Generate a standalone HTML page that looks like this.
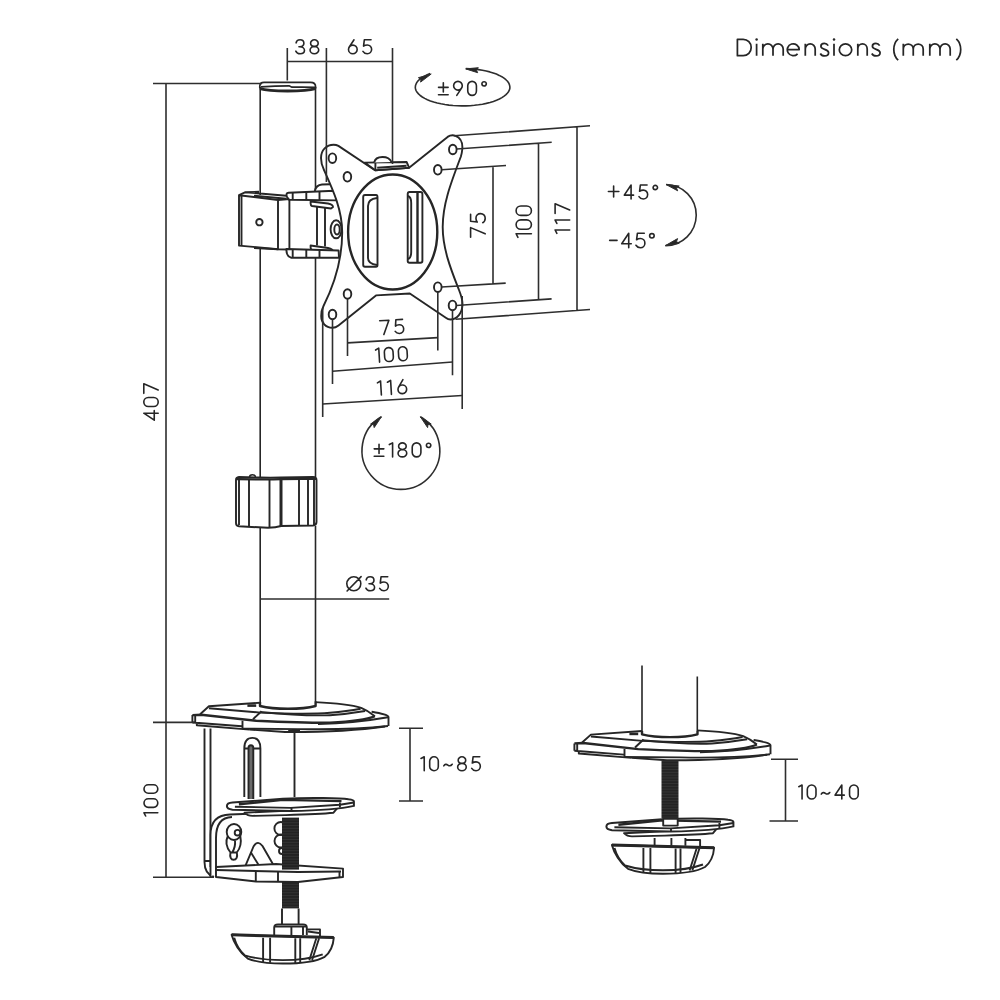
<!DOCTYPE html>
<html><head><meta charset="utf-8"><style>
html,body{margin:0;padding:0;background:#fff;}
svg{display:block;}

</style></head><body>
<svg width="1000" height="1000" viewBox="0 0 1000 1000">
<defs>
<pattern id="thr" patternUnits="userSpaceOnUse" width="40" height="2.8"><rect width="40" height="2.8" fill="#232323"/><rect x="0" y="1.9" width="40" height="0.4" fill="#4a4a4a"/></pattern>
<!-- base disc, grommet coordinates -->
<g id="base">
<path d="M574.4 743.4 L583.2 743 L590.9 734.6 L642 731 L697 730.4 C720 731.5 735 733.5 743.2 736.1 L753.6 740 C762 741.5 770.5 743 770.5 745.3 V754.3 C750 757 730 759.5 712 760.3 L667 760.5 L631.6 757.9 L578.8 753.5 V751.9 L574.4 750.8 Z" fill="#fff" stroke="none"/>
<path d="M574.4 743.4 V750.8 M578.8 751.9 V753.5 L631.6 757.9"/>
<path d="M582.1 742.5 L590.9 734.6 L642 731 M697 730.4 C720 731.5 735 733.5 743.2 736.1 C748 738 752 740.5 756.9 744.5"/>
<path d="M574.4 743.4 L583.2 743 L638.2 749.1 C670 750.5 700 751.2 712 751.1 C735 750 750 747.5 756.9 744.5" stroke-width="2.4"/>
<path d="M590.9 736.5 L642.6 740.9 C670 742 700 742 712 741 C725 740 735 738.5 742.6 737"/>
<path d="M642.4 740.3 C670 743 700 744 712 743.5 C728 742.5 740 740.5 747.1 739.3"/>
<path d="M643.5 739.5 L635 747.5"/>
<path d="M753.6 740 C762 741.5 770.5 743 770.5 745.3 V754.3"/>
<path d="M770 745.5 C750 749 730 751.5 700 752.3"/>
<path d="M577.2 744 V751 M574.4 750.8 L623.9 754.6 M624.5 749 V757"/>
<path d="M624.5 757 L680 757.4 C720 758.2 750 756.5 770 754.3"/>
<path d="M631.6 757.9 L667 760.3 C710 760.5 745 758 767 754.8"/>
<path d="M629.4 733.9 H638.2" stroke-width="2.6"/>
</g>
<g id="pplate">
<path d="M624 833.2 Q627 836.4 632 836.4 L665 835.6 Q700 834.5 713 833.2 L717 828.4 L670 831 Z" fill="#fff"/>
<path d="M606.4 826.5 C606.4 823.8 609 823.2 612 823 L662.4 819.2 C690 818 720 818.5 728 819.8 C732 820.3 733.4 821 733.4 822 V826.4 C720 829.5 700 831 670.4 831.6 L612 830.2 C608.5 829.8 606.4 828.5 606.4 826.5 Z" fill="#fff" stroke-width="2"/>
<path d="M618.4 824.8 L662.4 820.4 L721 821.6" stroke-width="2.4"/>
<path d="M614.4 827.2 L670.4 828.4 L719.4 825.2 L733.4 823"/>
<path d="M671 828V832 M719.4 823V828"/>
</g>
<g id="knob">
<path d="M611.9 845 L714.1 847.8 C713.5 856 710 863 705 867 C697 871.5 680 873.7 663 873.7 C648 873.7 636 872 628 868.8 C620 863 614 853 611.9 845 Z" fill="#fff"/>
<path d="M611.9 845 L714.1 847.8" stroke-width="3"/>
<path d="M614.5 848 C616.5 855 620 861 625 865.5 C638 869.5 650 870.3 663 870.3 C678 870.3 692 868.5 703 864.5"/>
<path d="M643.4 848V872.5 M650.4 848V873 M675.6 848.5V873.5 M680.5 848.5V873 M699.4 848.5 L692.4 870.2 M696.6 848.5 L689.6 870.5"/>
</g>
</defs>

<g fill="none" stroke="#262626" stroke-width="1.9" stroke-linecap="butt" stroke-linejoin="round">

<!-- ===== POLE ===== -->
<path d="M260.2 87V195 M315.5 87V193 M260.2 249V477 M315.5 258V477 M260.2 526V703 M315.5 526V702" stroke-width="1.6"/>
<path d="M259.8 88.5 V86 Q260 82.4 264 82.4 H310.5 Q315.6 82.4 315.6 87 V88.5" stroke-width="1.7"/>
<path d="M261 86.8 Q275 85.8 289 85.8 L292 87.2 Q305 86.8 315 87.4" stroke-width="1.7"/>
<path d="M260 88.6 C270 91.8 305 91.8 315.5 88.6" stroke-width="2.8"/>
<!-- bracket on pole -->
<path d="M239 195.2 L278 200 L278 249.2 L239 245.6 Z" fill="#fff"/>
<path d="M241.5 196 V245.8"/>
<path d="M239 195.2 L245 192.3 L259 191.8 M254 195.8 L286.4 198.8 M245 192.2 L286.4 195.8"/>
<path d="M278 200 L289.4 199 L289.4 249.5 L278 249.2 M254 248 L278 249.2"/>
<circle cx="259.4" cy="222.2" r="3.2"/>
<path d="M287 197 Q285.5 193 288.5 192.7 L334.4 190.8 L337 200.4 L289.3 199.8 Z" fill="#fff"/>
<path d="M292.7 193V199.8 M306.3 192V200 M319.5 191.5V200.2"/>
<path d="M314.8 191 Q316 185 322 184.5 L330 184.2" fill="#fff"/>
<path d="M310.6 201.5 L328 203.5 Q333 204.5 333 207 L331 208.5 L312 206 Q310.6 205.5 310.6 203.5 Z" fill="#fff"/>
<path d="M317 206.5 V245.5 M325 207.5 V246.5"/>
<path d="M310.6 245.5 L328 248 Q333 249 333 251.5 L331 252.5 L312 250 Q310.6 249.5 310.6 247.5 Z" fill="#fff"/>
<path d="M286.4 249 L338.6 250.5 L339 257.7 L291 257.7 Q286 256 286.4 249 Z" fill="#fff"/>
<path d="M292.7 249.5V257.7 M306.3 249.8V257.7 M319.5 250.2V257.7"/>
<ellipse cx="336.1" cy="229.3" rx="5.5" ry="9" fill="#fff"/>
<ellipse cx="337" cy="229.5" rx="2.7" ry="5"/>

<!-- collar -->
<path d="M239 477 Q236 477.3 236 480 V523 Q236 526 239 526.3 L268 527.8 Q276 527.5 281 526 L313 525.5 Q316.5 525.3 316.5 522 V480 Q316.5 477 313 477 L281 477.5 Q270 477.8 260 477.5 Z" fill="#fff"/>
<path d="M237 479.2 Q268 479.6 281 479.2 Q300 478.6 316 479" stroke-width="2.2"/>
<path d="M249.5 477.3 Q249.5 474.8 252.5 474.8 Q255.5 474.8 255.5 477.3" stroke-width="1.5"/>
<path d="M239 479V525 M249 479.5V526.5 M269.5 479V527.5 M299 479V526 M308 479V525.5 M314 479V525"/>
<path d="M281 478V526" stroke-width="3"/>

<!-- ===== VESA PLATE ===== -->
<path d="M338.4 145.9 L375 170.2 L409.1 167.7 L447.6 136.9 C450 135.3 453 135 455.5 135.8 C460 137.5 462.8 142.5 462.3 149 C462 152.5 461.5 154.5 460.9 156.5 C450 185 442.7 205 442.7 227 C442.7 250 452 272 459 290 C461 295 462.5 299 462.5 304 C462.5 313 457 319.5 450.4 319.5 C448.5 319.5 447.2 318.8 446.2 318 L409.8 293.5 L376 295.4 L338.5 325.4 C336.5 327 334.5 327.7 332.5 327.7 C325.5 327.7 321.2 322.5 321.2 316 C321.2 312 322 309 323.5 306 C333 287 342.2 260 342.2 232.5 C342.2 210 333 190 324 170 C322 166 321 162 321 158 C321 150 326.5 144.7 333.6 144.7 C335.5 144.7 337 145.1 338.4 145.9 Z" fill="#fff"/>
<!-- tab -->
<path d="M364.6 162.6 L406.6 162 L409.1 167.7 L375.4 170.2 Z" fill="#fff"/>
<path d="M374.2 162.5 C375 158.5 378 157 382.5 157 C387 157 390 158.5 391.5 162" fill="#fff"/>
<path d="M377.2 167.8 L406.6 165.7 M375.4 163 V170"/>
<!-- holes -->
<ellipse cx="332.4" cy="158.2" rx="3.8" ry="4.8"/>
<ellipse cx="347.4" cy="176.8" rx="3.8" ry="4.8"/>
<ellipse cx="452.8" cy="149.5" rx="3.8" ry="4.8"/>
<ellipse cx="437.8" cy="169.8" rx="3.8" ry="4.8"/>
<ellipse cx="347.5" cy="294" rx="3.8" ry="4.8"/>
<ellipse cx="332.5" cy="314.5" rx="3.8" ry="4.8"/>
<ellipse cx="437.8" cy="287.2" rx="3.8" ry="4.8"/>
<ellipse cx="452.5" cy="305.4" rx="3.8" ry="4.8"/>
<!-- big disc -->
<ellipse cx="392.7" cy="232" rx="44.6" ry="57.5" stroke-width="2.4"/>
<!-- slots -->
<path d="M365 195 H376 Q377.5 195 377.5 197 V265 Q377.5 266.7 376 266.7 H365 Q363.2 266.7 363.2 265 V197 Q363.2 195 365 195 Z"/>
<path d="M377 198 Q368 199 368 206 V258 Q368 264 377 265"/>
<path d="M409.5 192 H420.5 Q422.4 192 422.4 194 V261 Q422.4 262.7 420.5 262.7 H409.5 Q407.7 262.7 407.7 261 V194 Q407.7 192 409.5 192 Z"/>
<path d="M417.5 193V262" stroke-width="2.4"/>
<path d="M408 196 Q411.2 197 411.2 203 V252 Q411.2 258 408 259"/>

<!-- ===== BIG CLAMP ===== -->
<use href="#base" transform="translate(-382 -28.3)"/>
<path d="M260 702 V706 C270 708.5 280 708.8 288 708.8 C296 708.8 306 708.5 315.6 706 V701.6" stroke-width="2.4"/>
<!-- vertical bar -->
<path d="M204.5 728.5 V862 Q204.5 874 214 877 M210.5 728.5 V867"/>
<path d="M204.5 861 H210.5 M210.5 832 H216 M210.5 868 H216"/>
<!-- L plate -->
<path d="M210.5 877 V835 Q210.5 815 230 814.5 L300 812" fill="#fff"/>
<path d="M216 877 V838 Q216 817.5 232 817"/>
<path d="M294.5 731.8 V797 M288.2 731 H300"/>
<!-- slot -->
<path d="M244.3 797 V748.5 Q244.3 737.9 252.4 737.9 Q260.4 737.9 260.4 748.5 V797 M244.3 748.5 H260.4"/>
<path d="M248.5 799 V748 Q248.5 745.3 250.9 745.3 Q253.3 745.3 253.3 748 V799" fill="#6a6a6a"/>
<use href="#pplate" transform="translate(-379.5 -20.5)"/>
<!-- bolts -->
<ellipse cx="234" cy="832" rx="7.3" ry="8"/>
<path d="M227.8 836 C225.5 841 226 847 230.5 852.5 C229.5 857 231 859.8 233.5 859.8 C236.5 859.8 237.8 857 236.8 852.5 C240.5 848 241.5 842 240.3 836"/>
<circle cx="237.5" cy="832.7" r="2.8"/>
<path d="M235 840.5 C235.5 845 234.5 848.5 232.5 852 M230.8 852.5 H236.8"/>
<circle cx="280.9" cy="828.5" r="6.5"/>
<circle cx="281" cy="841" r="6.5"/>
<circle cx="282" cy="851" r="3"/>
<!-- triangle -->
<path d="M245.2 866.3 L253.5 846.5 Q257.8 839.5 262.5 846 L274.6 867"/>
<path d="M250.8 852.3 L259.9 867"/>
<!-- jaw plate -->
<path d="M216 867 L276 864 L343 868.6 V877 L298 882 L256 881.5 L216 877 Z" fill="#fff"/>
<path d="M216 870 L298 872 L341 871.5"/>
<path d="M255.8 872V881.5 M278 872V882 M339.5 871V877"/>
<!-- threaded rod -->
<rect x="282" y="817.6" width="17" height="52" fill="url(#thr)" stroke="none"/>
<rect x="282" y="882" width="17" height="26.4" fill="url(#thr)" stroke="none"/>
<path d="M282 908.4V924.6 M298.6 908.4V924.6"/>
<!-- nut -->
<path d="M274.2 935 V927.5 Q274.2 924.4 278 924.4 H303 Q306.8 924.4 306.8 927.5 V935"/>
<path d="M291.4 926V935 M303 926V935 M275 926.5 H306"/>
<path d="M306.8 929.4 H320 V936.5 M308 931.5 L319 933" />
<use href="#knob" transform="translate(-380.3 89.8)"/>

<!-- ===== GROMMET MOUNT ===== -->
<path d="M642 665.5 V734.8 M697.3 676.5 V734.8" stroke-width="1.6"/>
<use href="#base"/>
<path d="M642 731 V734.3 C652 736.8 662 737.1 670 737.1 C678 737.1 688 736.8 697.5 734.3 V730.4" stroke-width="2.4"/>
<rect x="661.5" y="760.5" width="17" height="57.5" fill="url(#thr)" stroke="none"/>
<use href="#pplate"/>
<rect x="663.2" y="818.8" width="14.5" height="6.8" fill="#fff"/>
<path d="M654.6 838 V845.7 M685.4 838 V845.7 M671.4 838 V845.7 M685.4 840 H700.1 V846.4"/>
<use href="#knob"/>

</g>
<g fill="none" stroke="#2e2e2e" stroke-width="1.6" stroke-linecap="butt" stroke-linejoin="round">
<!-- ===== DIMENSION LINES ===== -->
<path d="M287.3 48V80.5 M326.4 48V182 M392.5 48V164 M287.3 61.5H392.5"/>
<path d="M153 83.5H262 M166 83.5V877 M153 722.4H194 M153 877.2H214"/>
<!-- right dims -->
<path d="M454 135.8L590 125.8 M577 126.5V310.5 M455.5 319.3L590 309.5"/>
<path d="M456.7 149L551.7 142.3 M538.5 143V299.8 M456.3 305.5L551.6 298.9"/>
<path d="M441.6 169.8L506 165.5 M493 166V283.5 M441.6 287L505.7 283.1"/>
<!-- bottom dims -->
<path d="M322.7 308V417 M332.5 319.3V384 M347.5 298.8V356 M437.8 292V350.5 M452.5 310.2V375.2 M462.2 296V409"/>
<path d="M347.5 342.9L437.8 337.6 M332.5 371.2L452.5 362 M322.7 404L462.2 395.5"/>
<!-- diameter -->
<path d="M260 599H389.2"/>
<!-- clamp ranges -->
<path d="M399 728.3H423 M410 728.3V801 M399 801H423"/>
<path d="M771 759.3H798 M785.5 759.3V821 M769.5 821H798"/>

<!-- ===== ROTATION ARROWS ===== -->
<path d="M430.2 73.6 L427.2 74.8 L424.5 76.1 L422.1 77.5 L420.0 79.0 L418.3 80.6 L417.0 82.2 L416.1 83.9 L415.5 85.6 L415.3 87.3 L415.5 89.0 L416.1 90.6 L417.1 92.3 L418.5 93.9 L420.2 95.5 L422.3 97.0 L424.7 98.4 L427.4 99.7 L430.4 100.9 L433.7 102.0 L437.2 103.0 L441.0 103.8 L444.9 104.5 L448.9 105.1 L453.1 105.5 L457.4 105.8 L461.6 105.9 L465.9 105.9 L470.2 105.7 L474.4 105.3 L478.5 104.8 L482.5 104.2 L486.3 103.4 L490.0 102.5 L493.4 101.4 L496.5 100.2 L499.4 99.0 L501.9 97.6 L504.1 96.1 L506.0 94.6 L507.5 93.0 L508.7 91.4 L509.5 89.7 L509.9 88.0 L509.8 86.3 L509.4 84.6 L508.7 82.9 L507.5 81.3 L505.9 79.7 L504.0 78.2 L501.8 76.7 L499.2 75.4 L496.4 74.1 L493.2 72.9 L489.8 71.9 L486.2 71.0 L482.4 70.2 L478.4 69.6 L474.3 69.1 L470.0 68.7 L465.8 68.5"/>
<path d="M431.2 74 L420.6 82.1 L421 79.5 L418.4 77.7 Z M465.7 68.9 L478.3 67.7 L476.5 70.3 L477.7 72.7 Z" fill="#262626" stroke-width="1"/>
<path d="M381.4 416.8 A38.9 38.9 0 1 0 420.4 416.8"/>
<path d="M381.4 416.8 L374.2 427.6 L373.5 424.5 L370.6 424 Z M420.4 416.8 L431.2 424 L428 424.5 L427.6 427.6 Z" fill="#262626" stroke-width="1"/>
<path d="M666 184.5 A30.5 30.5 0 0 1 665.4 245.6"/>
<path d="M666 184.5 L679.2 186 L676.5 188 L677.7 190.8 Z M665.4 245.6 L679.2 243.4 L676.5 241.5 L677.6 238.6 Z" fill="#262626" stroke-width="1"/>
</g>

<!-- ===== TEXTS ===== -->
<path d="M737.4 39.3 V55.7 H743.2 A8.0 8.2 0 0 0 743.2 39.3 Z M756.6 43.8 V55.7 M762.8 55.7 V43.8 M762.8 49 A5.10 5.2 0 0 1 773.00 49 V55.7 M773.00 49 A5.10 5.2 0 0 1 783.2 49 V55.7 M787.3 49.6 H799.2 A5.95 5.95 0 1 0 797.6 53.8 M805.3 55.7 V43.8 M805.3 49 A4.95 5.2 0 0 1 815.2 49 V55.7 M 828.20 45.60 C 827.40 44.30 826.00 43.40 824.40 43.40 C 822.30 43.40 820.90 44.60 820.90 46.30 C 820.90 50.00 828.60 48.60 828.60 52.70 C 828.60 54.60 827.00 55.90 824.60 55.90 C 822.60 55.90 821.10 55.00 820.30 53.50 M834 43.8 V55.7 M839.3 49.75 A6.2 5.95 0 1 0 851.7 49.75 A6.2 5.95 0 1 0 839.3 49.75 M857.8 55.7 V43.8 M857.8 49 A4.70 5.2 0 0 1 867.2 49 V55.7 M 879.70 45.60 C 878.90 44.30 877.50 43.40 875.90 43.40 C 873.80 43.40 872.40 44.60 872.40 46.30 C 872.40 50.00 880.10 48.60 880.10 52.70 C 880.10 54.60 878.50 55.90 876.10 55.90 C 874.10 55.90 872.60 55.00 871.80 53.50 M898.2 38.8 C894.9 41.8 893.8 45.5 893.8 49.5 C893.8 53.5 894.9 57.2 898.2 60.2 M903.3 55.7 V43.8 M903.3 49 A4.98 5.2 0 0 1 913.25 49 V55.7 M913.25 49 A4.98 5.2 0 0 1 923.2 49 V55.7 M929.8 55.7 V43.8 M929.8 49 A5.10 5.2 0 0 1 940.00 49 V55.7 M940.00 49 A5.10 5.2 0 0 1 950.2 49 V55.7 M956.3 38.8 C959.6 41.8 960.7 45.5 960.7 49.5 C960.7 53.5 959.6 57.2 956.3 60.2" fill="none" stroke="#262626" stroke-width="1.75" stroke-linecap="butt" stroke-linejoin="round"/><circle cx="756.6" cy="39.4" r="1.25" fill="#262626"/><circle cx="834" cy="39.4" r="1.25" fill="#262626"/>
<g fill="none" stroke="#262626" stroke-linecap="round" stroke-linejoin="round">
<g transform="translate(295 54.6)" stroke-width="1.623"><path transform="translate(0.80 -14.80) scale(0.9859)" d="M0.3 3.2 C0.6 1.2 2.2 0 4.3 0 C6.6 0 8.2 1.5 8.2 3.6 C8.2 5.8 6.5 7.0 4.0 7.0 H3.2 M4.0 7.0 C6.9 7.0 8.8 8.7 8.8 10.6 C8.8 12.8 6.9 14.2 4.4 14.2 C2.3 14.2 0.7 13.1 0 11.5"/><path transform="translate(15.05 -14.80) scale(0.9859)" d="M0.55 3.45 A3.85 3.45 0 1 0 8.25 3.45 A3.85 3.45 0 1 0 0.55 3.45 M0 10.45 A4.4 3.75 0 1 0 8.8 10.45 A4.4 3.75 0 1 0 0 10.45"/></g>
<g transform="translate(347.7 54.6)" stroke-width="1.623"><path transform="translate(0.80 -14.80) scale(0.9859)" d="M0 9.8 A4.4 4.4 0 1 0 8.8 9.8 A4.4 4.4 0 1 0 0 9.8 M0.6 7.6 L5.6 0"/><path transform="translate(15.25 -14.80) scale(0.9859)" d="M8.2 0 H1.4 L0.6 6.4 C1.7 5.6 3.0 5.2 4.4 5.2 C7.0 5.2 8.8 7.2 8.8 9.7 C8.8 12.3 6.9 14.2 4.4 14.2 C2.5 14.2 0.9 13.3 0 11.8"/></g>
<g transform="translate(437.7 96.2)" stroke-width="1.623"><path transform="translate(0.80 -14.80) scale(0.9859)" d="M4.9 1.3 V10.8 M0 6.05 H9.8 M0 13.5 H9.8"/><path transform="translate(15.92 -14.80) scale(0.9859)" d="M0 4.4 A4.4 4.4 0 1 0 8.8 4.4 A4.4 4.4 0 1 0 0 4.4 M8.2 6.6 L3.2 14.2"/><path transform="translate(30.05 -14.80) scale(0.9859)" d="M0 4.4 A4.4 4.4 0 0 1 8.8 4.4 V9.8 A4.4 4.4 0 0 1 0 9.8 Z"/><path transform="translate(44.19 -14.80) scale(0.9859)" d="M0 2.5 A2.25 2.15 0 1 0 4.5 2.5 A2.25 2.15 0 1 0 0 2.5"/></g>
<g transform="translate(373.4 457.7)" stroke-width="1.623"><path transform="translate(0.80 -14.80) scale(0.9859)" d="M4.9 1.3 V10.8 M0 6.05 H9.8 M0 13.5 H9.8"/><path transform="translate(15.94 -14.80) scale(0.9859)" d="M0 1.7 L3.3 0 V14.2"/><path transform="translate(24.67 -14.80) scale(0.9859)" d="M0.55 3.45 A3.85 3.45 0 1 0 8.25 3.45 A3.85 3.45 0 1 0 0.55 3.45 M0 10.45 A4.4 3.75 0 1 0 8.8 10.45 A4.4 3.75 0 1 0 0 10.45"/><path transform="translate(38.83 -14.80) scale(0.9859)" d="M0 4.4 A4.4 4.4 0 0 1 8.8 4.4 V9.8 A4.4 4.4 0 0 1 0 9.8 Z"/><path transform="translate(52.99 -14.80) scale(0.9859)" d="M0 2.5 A2.25 2.15 0 1 0 4.5 2.5 A2.25 2.15 0 1 0 0 2.5"/></g>
<g transform="translate(607.6 199.8)" stroke-width="1.623"><path transform="translate(0.80 -14.80) scale(0.9859)" d="M5.3 1.0 V12.2 M0 6.6 H10.6"/><path transform="translate(16.68 -14.80) scale(0.9859)" d="M6.9 14.2 V0 L0 10.3 H9.4"/><path transform="translate(31.38 -14.80) scale(0.9859)" d="M8.2 0 H1.4 L0.6 6.4 C1.7 5.6 3.0 5.2 4.4 5.2 C7.0 5.2 8.8 7.2 8.8 9.7 C8.8 12.3 6.9 14.2 4.4 14.2 C2.5 14.2 0.9 13.3 0 11.8"/><path transform="translate(45.49 -14.80) scale(0.9859)" d="M0 2.5 A2.25 2.15 0 1 0 4.5 2.5 A2.25 2.15 0 1 0 0 2.5"/></g>
<g transform="translate(608.9 248.5)" stroke-width="1.578"><path transform="translate(0.80 -15.20) scale(1.0141)" d="M0 7.0 H7.2"/><path transform="translate(12.82 -15.20) scale(1.0141)" d="M6.9 14.2 V0 L0 10.3 H9.4"/><path transform="translate(27.07 -15.20) scale(1.0141)" d="M8.2 0 H1.4 L0.6 6.4 C1.7 5.6 3.0 5.2 4.4 5.2 C7.0 5.2 8.8 7.2 8.8 9.7 C8.8 12.3 6.9 14.2 4.4 14.2 C2.5 14.2 0.9 13.3 0 11.8"/><path transform="translate(40.71 -15.20) scale(1.0141)" d="M0 2.5 A2.25 2.15 0 1 0 4.5 2.5 A2.25 2.15 0 1 0 0 2.5"/></g>
<g transform="translate(346 591.6)" stroke-width="1.623"><path transform="translate(0.80 -14.80) scale(0.9859)" d="M0 7.1 A7.1 7.1 0 1 0 14.2 7.1 A7.1 7.1 0 1 0 0 7.1 M0.3 14.4 L14.5 -0.2"/><path transform="translate(19.89 -14.80) scale(0.9859)" d="M0.3 3.2 C0.6 1.2 2.2 0 4.3 0 C6.6 0 8.2 1.5 8.2 3.6 C8.2 5.8 6.5 7.0 4.0 7.0 H3.2 M4.0 7.0 C6.9 7.0 8.8 8.7 8.8 10.6 C8.8 12.8 6.9 14.2 4.4 14.2 C2.3 14.2 0.7 13.1 0 11.5"/><path transform="translate(33.65 -14.80) scale(0.9859)" d="M8.2 0 H1.4 L0.6 6.4 C1.7 5.6 3.0 5.2 4.4 5.2 C7.0 5.2 8.8 7.2 8.8 9.7 C8.8 12.3 6.9 14.2 4.4 14.2 C2.5 14.2 0.9 13.3 0 11.8"/></g>
<g transform="translate(420.2 771.5)" stroke-width="1.635"><path transform="translate(0.80 -14.70) scale(0.9789)" d="M0 1.7 L3.3 0 V14.2"/><path transform="translate(9.49 -14.70) scale(0.9789)" d="M0 4.4 A4.4 4.4 0 0 1 8.8 4.4 V9.8 A4.4 4.4 0 0 1 0 9.8 Z"/><path transform="translate(23.57 -14.70) scale(0.9789)" d="M0 9.3 C1.2 7.4 2.7 7.3 4.2 8.4 C5.7 9.5 7.2 9.5 8.6 7.6"/><path transform="translate(37.44 -14.70) scale(0.9789)" d="M0.55 3.45 A3.85 3.45 0 1 0 8.25 3.45 A3.85 3.45 0 1 0 0.55 3.45 M0 10.45 A4.4 3.75 0 1 0 8.8 10.45 A4.4 3.75 0 1 0 0 10.45"/><path transform="translate(51.52 -14.70) scale(0.9789)" d="M8.2 0 H1.4 L0.6 6.4 C1.7 5.6 3.0 5.2 4.4 5.2 C7.0 5.2 8.8 7.2 8.8 9.7 C8.8 12.3 6.9 14.2 4.4 14.2 C2.5 14.2 0.9 13.3 0 11.8"/></g>
<g transform="translate(798 799.8)" stroke-width="1.623"><path transform="translate(0.80 -14.80) scale(0.9859)" d="M0 1.7 L3.3 0 V14.2"/><path transform="translate(9.32 -14.80) scale(0.9859)" d="M0 4.4 A4.4 4.4 0 0 1 8.8 4.4 V9.8 A4.4 4.4 0 0 1 0 9.8 Z"/><path transform="translate(23.26 -14.80) scale(0.9859)" d="M0 9.3 C1.2 7.4 2.7 7.3 4.2 8.4 C5.7 9.5 7.2 9.5 8.6 7.6"/><path transform="translate(37.01 -14.80) scale(0.9859)" d="M6.9 14.2 V0 L0 10.3 H9.4"/><path transform="translate(51.55 -14.80) scale(0.9859)" d="M0 4.4 A4.4 4.4 0 0 1 8.8 4.4 V9.8 A4.4 4.4 0 0 1 0 9.8 Z"/></g>
<g transform="translate(379.8 335.5) rotate(-3.5)" stroke-width="1.635"><path transform="translate(0.80 -14.70) scale(0.9789)" d="M0 0 H9.4 L3.4 14.2"/><path transform="translate(15.62 -14.70) scale(0.9789)" d="M8.2 0 H1.4 L0.6 6.4 C1.7 5.6 3.0 5.2 4.4 5.2 C7.0 5.2 8.8 7.2 8.8 9.7 C8.8 12.3 6.9 14.2 4.4 14.2 C2.5 14.2 0.9 13.3 0 11.8"/></g>
<g transform="translate(375.6 363.2) rotate(-3.5)" stroke-width="1.623"><path transform="translate(0.80 -14.80) scale(0.9859)" d="M0 1.7 L3.3 0 V14.2"/><path transform="translate(9.41 -14.80) scale(0.9859)" d="M0 4.4 A4.4 4.4 0 0 1 8.8 4.4 V9.8 A4.4 4.4 0 0 1 0 9.8 Z"/><path transform="translate(23.45 -14.80) scale(0.9859)" d="M0 4.4 A4.4 4.4 0 0 1 8.8 4.4 V9.8 A4.4 4.4 0 0 1 0 9.8 Z"/></g>
<g transform="translate(377.4 396) rotate(-3.5)" stroke-width="1.623"><path transform="translate(0.80 -14.80) scale(0.9859)" d="M0 1.7 L3.3 0 V14.2"/><path transform="translate(10.87 -14.80) scale(0.9859)" d="M0 1.7 L3.3 0 V14.2"/><path transform="translate(20.95 -14.80) scale(0.9859)" d="M0 9.8 A4.4 4.4 0 1 0 8.8 9.8 A4.4 4.4 0 1 0 0 9.8 M0.6 7.6 L5.6 0"/></g>
<g transform="translate(159 421) rotate(-90)" stroke-width="1.578"><path transform="translate(0.80 -15.20) scale(1.0141)" d="M6.9 14.2 V0 L0 10.3 H9.4"/><path transform="translate(14.53 -15.20) scale(1.0141)" d="M0 4.4 A4.4 4.4 0 0 1 8.8 4.4 V9.8 A4.4 4.4 0 0 1 0 9.8 Z"/><path transform="translate(27.65 -15.20) scale(1.0141)" d="M0 0 H9.4 L3.4 14.2"/></g>
<g transform="translate(158.6 816.8) rotate(-90)" stroke-width="1.646"><path transform="translate(0.80 -14.60) scale(0.9718)" d="M0 1.7 L3.3 0 V14.2"/><path transform="translate(9.47 -14.60) scale(0.9718)" d="M0 4.4 A4.4 4.4 0 0 1 8.8 4.4 V9.8 A4.4 4.4 0 0 1 0 9.8 Z"/><path transform="translate(23.49 -14.60) scale(0.9718)" d="M0 4.4 A4.4 4.4 0 0 1 8.8 4.4 V9.8 A4.4 4.4 0 0 1 0 9.8 Z"/></g>
<g transform="translate(486 238.1) rotate(-90)" stroke-width="1.556"><path transform="translate(0.80 -15.40) scale(1.0282)" d="M0 0 H9.4 L3.4 14.2"/><path transform="translate(15.41 -15.40) scale(1.0282)" d="M8.2 0 H1.4 L0.6 6.4 C1.7 5.6 3.0 5.2 4.4 5.2 C7.0 5.2 8.8 7.2 8.8 9.7 C8.8 12.3 6.9 14.2 4.4 14.2 C2.5 14.2 0.9 13.3 0 11.8"/></g>
<g transform="translate(532.2 238.1) rotate(-90)" stroke-width="1.485"><path transform="translate(0.80 -16.10) scale(1.0775)" d="M0 1.7 L3.3 0 V14.2"/><path transform="translate(8.78 -16.10) scale(1.0775)" d="M0 4.4 A4.4 4.4 0 0 1 8.8 4.4 V9.8 A4.4 4.4 0 0 1 0 9.8 Z"/><path transform="translate(22.69 -16.10) scale(1.0775)" d="M0 4.4 A4.4 4.4 0 0 1 8.8 4.4 V9.8 A4.4 4.4 0 0 1 0 9.8 Z"/></g>
<g transform="translate(570.5 234.2) rotate(-90)" stroke-width="1.556"><path transform="translate(0.80 -15.40) scale(1.0282)" d="M0 1.7 L3.3 0 V14.2"/><path transform="translate(10.75 -15.40) scale(1.0282)" d="M0 1.7 L3.3 0 V14.2"/><path transform="translate(20.69 -15.40) scale(1.0282)" d="M0 0 H9.4 L3.4 14.2"/></g>
</g>
</svg>
</body></html>
